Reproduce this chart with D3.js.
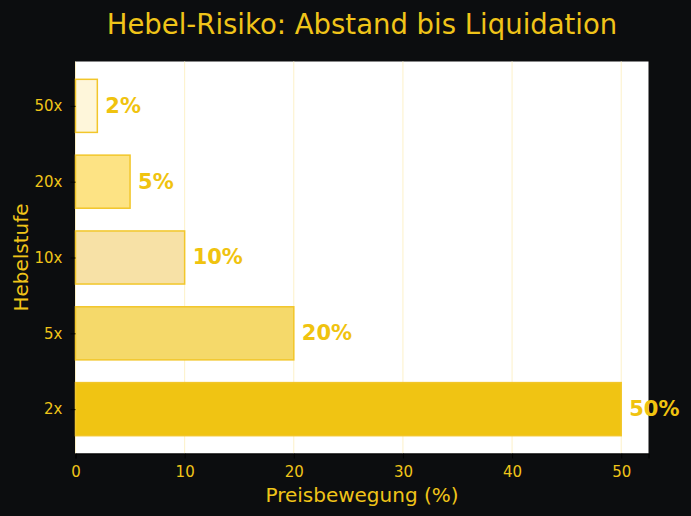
<!DOCTYPE html>
<html>
<head>
<meta charset="utf-8">
<script src="https://cdn.jsdelivr.net/npm/d3@7"></script>
<style>
  body { margin: 0; background: #0c0d0f; }
  svg { display: block; font-family: "DejaVu Sans", sans-serif; }
</style>
</head>
<body>
<script>
// data
const levels = ["2x", "5x", "10x", "20x", "50x"];
const distances = [50, 20, 10, 5, 2];
const fills = ["#f0c413", "#f5d96a", "#f7e1a6", "#fde384", "#fef6da"];
const xTicks = [0, 10, 20, 30, 40, 50];

const width = 691, height = 516;
const margin = { top: 61.5, right: 42.5, bottom: 62.5, left: 75.5 };
const gold = "#f0c419";

const svg = d3.select("body").append("svg")
    .attr("width", width)
    .attr("height", height);

svg.append("rect")
    .attr("width", width).attr("height", height)
    .attr("fill", "#0c0d0f");

const x = d3.scaleLinear()
    .domain([0, 52.5])
    .range([margin.left, width - margin.right]);

// index 0 (2x) at the bottom, same as a horizontal bar chart
const y = d3.scaleLinear()
    .domain([-0.585, 4.585])
    .range([height - margin.bottom, margin.top]);

const barH = y(0) - y(0.7);

// plot background
svg.append("rect")
    .attr("x", x(0)).attr("y", margin.top)
    .attr("width", x(52.5) - x(0))
    .attr("height", height - margin.bottom - margin.top)
    .attr("fill", "#ffffff");

// vertical grid
svg.append("g")
  .selectAll("line")
  .data(xTicks)
  .join("line")
    .attr("x1", d => x(d)).attr("x2", d => x(d))
    .attr("y1", margin.top).attr("y2", height - margin.bottom)
    .attr("stroke", "#fdf1c8")
    .attr("stroke-width", 1);

// bars
svg.append("g")
  .selectAll("rect")
  .data(distances)
  .join("rect")
    .attr("x", x(0))
    .attr("y", (d, i) => y(i) - barH / 2)
    .attr("width", d => x(d) - x(0))
    .attr("height", barH)
    .attr("fill", (d, i) => fills[i])
    .attr("stroke", "#f2c62a")
    .attr("stroke-width", 1.5);

// value labels
svg.append("g")
  .selectAll("text")
  .data(distances)
  .join("text")
    .attr("x", d => x(d) + 8)
    .attr("y", (d, i) => y(i))
    .attr("dy", "0.33em")
    .attr("fill", "#f0c30f")
    .attr("font-size", 21)
    .attr("font-weight", "bold")
    .text(d => d + "%");

// axes
const xAxis = svg.append("g")
    .attr("transform", `translate(0,${height - margin.bottom})`)
    .call(d3.axisBottom(x).tickValues(xTicks).tickSize(5).tickPadding(8));
xAxis.select(".domain").attr("stroke", "#000").attr("stroke-width", 1.2);
xAxis.selectAll(".tick line").attr("stroke", "#000");
xAxis.selectAll("text").attr("fill", gold).attr("font-size", 15)
    .attr("font-family", "DejaVu Sans");

const yAxis = svg.append("g")
    .attr("transform", `translate(${margin.left},0)`)
    .call(d3.axisLeft(y).tickValues(d3.range(levels.length))
      .tickFormat(i => levels[i]).tickSize(5).tickPadding(8));
yAxis.select(".domain").remove();
yAxis.selectAll(".tick line").attr("stroke", "#000");
yAxis.selectAll("text").attr("fill", gold).attr("font-size", 15)
    .attr("font-family", "DejaVu Sans");

// titles
svg.append("text")
    .attr("x", 362).attr("y", 34)
    .attr("text-anchor", "middle")
    .attr("fill", gold)
    .attr("font-size", 27.5)
    .text("Hebel-Risiko: Abstand bis Liquidation");

svg.append("text")
    .attr("x", 362).attr("y", 502)
    .attr("text-anchor", "middle")
    .attr("fill", gold)
    .attr("font-size", 20)
    .text("Preisbewegung (%)");

svg.append("text")
    .attr("transform", `translate(28,${(margin.top + height - margin.bottom) / 2}) rotate(-90)`)
    .attr("text-anchor", "middle")
    .attr("fill", gold)
    .attr("font-size", 20)
    .text("Hebelstufe");
</script>
</body>
</html>
